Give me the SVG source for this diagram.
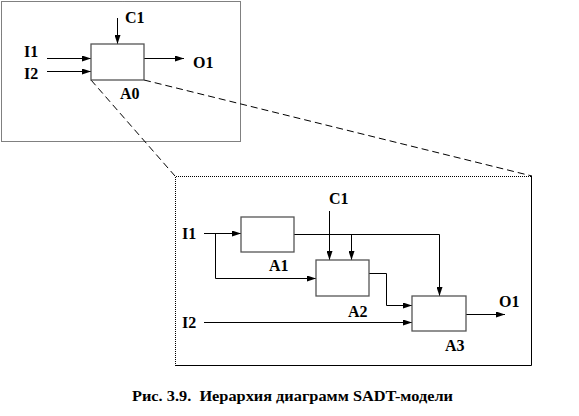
<svg xmlns="http://www.w3.org/2000/svg" width="579" height="416" viewBox="0 0 579 416">
<style>
.lbl{font-family:'Liberation Serif','DejaVu Serif',serif;font-weight:bold;font-size:16px;fill:#000}
.cap{font-family:'Liberation Serif','DejaVu Serif',serif;font-weight:bold;font-size:15px;fill:#000}
.box{fill:#fff;stroke:#555;stroke-width:1.3}
.ln{fill:none;stroke:#000;stroke-width:1}
.dot{fill:none;stroke:#000;stroke-width:1;stroke-dasharray:1,1}
.dash{fill:none;stroke:#000;stroke-width:1;stroke-dasharray:7,4}
</style>
<defs>
<marker id="ah" markerWidth="9" markerHeight="6" refX="9" refY="3" orient="auto" markerUnits="userSpaceOnUse">
<path d="M0,0 L9,3 L0,6 Z" fill="#000"/>
</marker>
</defs>
<rect width="579" height="416" fill="#fff"/>
<g id="frame-top"><rect class="dot" x="1.5" y="1.5" width="239" height="140"/></g>
<g id="frame-bottom">
<path class="dot" d="M175.5,366 V176.5 H532"/>
<path class="ln" d="M531.5,176 V365.5 H175"/>
</g>
<g id="connectors">
<path class="dash" d="M91,80 L175,176"/>
<path class="dash" d="M144,80 L532,176"/>
<path class="ln" d="M117.5,18 V44" marker-end="url(#ah)"/>
<path class="ln" d="M47,58.5 H91" marker-end="url(#ah)"/>
<path class="ln" d="M47,71.5 H91" marker-end="url(#ah)"/>
<path class="ln" d="M144,58.5 H184" marker-end="url(#ah)"/>
<path class="ln" d="M204,233.5 H241" marker-end="url(#ah)"/>
<path class="ln" d="M215.5,233.5 V278.5 H316" marker-end="url(#ah)"/>
<path class="ln" d="M329.5,211 V260" marker-end="url(#ah)"/>
<path class="ln" d="M294,234.5 H439.5 V296" marker-end="url(#ah)"/>
<path class="ln" d="M351.5,234.5 V260" marker-end="url(#ah)"/>
<path class="ln" d="M369,273.5 H386.5 V305.5 H412" marker-end="url(#ah)"/>
<path class="ln" d="M204,322.5 H412" marker-end="url(#ah)"/>
<path class="ln" d="M466,314.5 H505" marker-end="url(#ah)"/>
</g>
<g id="A0"><rect class="box" x="91" y="44" width="53" height="36"/><text class="lbl" x="120" y="99">A0</text></g>
<g id="A1"><rect class="box" x="241" y="217" width="53" height="35"/><text class="lbl" x="269" y="271">A1</text></g>
<g id="A2"><rect class="box" x="316" y="260" width="53" height="36"/><text class="lbl" x="348" y="317">A2</text></g>
<g id="A3"><rect class="box" x="412" y="296" width="54" height="35"/><text class="lbl" x="445" y="351">A3</text></g>
<g id="labels">
<text class="lbl" x="125" y="23">C1</text>
<text class="lbl" x="24" y="57">I1</text>
<text class="lbl" x="24" y="79">I2</text>
<text class="lbl" x="193" y="68">O1</text>
<text class="lbl" x="329" y="204">C1</text>
<text class="lbl" x="182" y="239">I1</text>
<text class="lbl" x="182" y="328">I2</text>
<text class="lbl" x="499" y="307">O1</text>
</g>
<g id="caption"><text class="cap" x="132" y="401" textLength="321" lengthAdjust="spacingAndGlyphs" xml:space="preserve">Рис. 3.9.  Иерархия диаграмм SADT-модели</text></g>
</svg>
